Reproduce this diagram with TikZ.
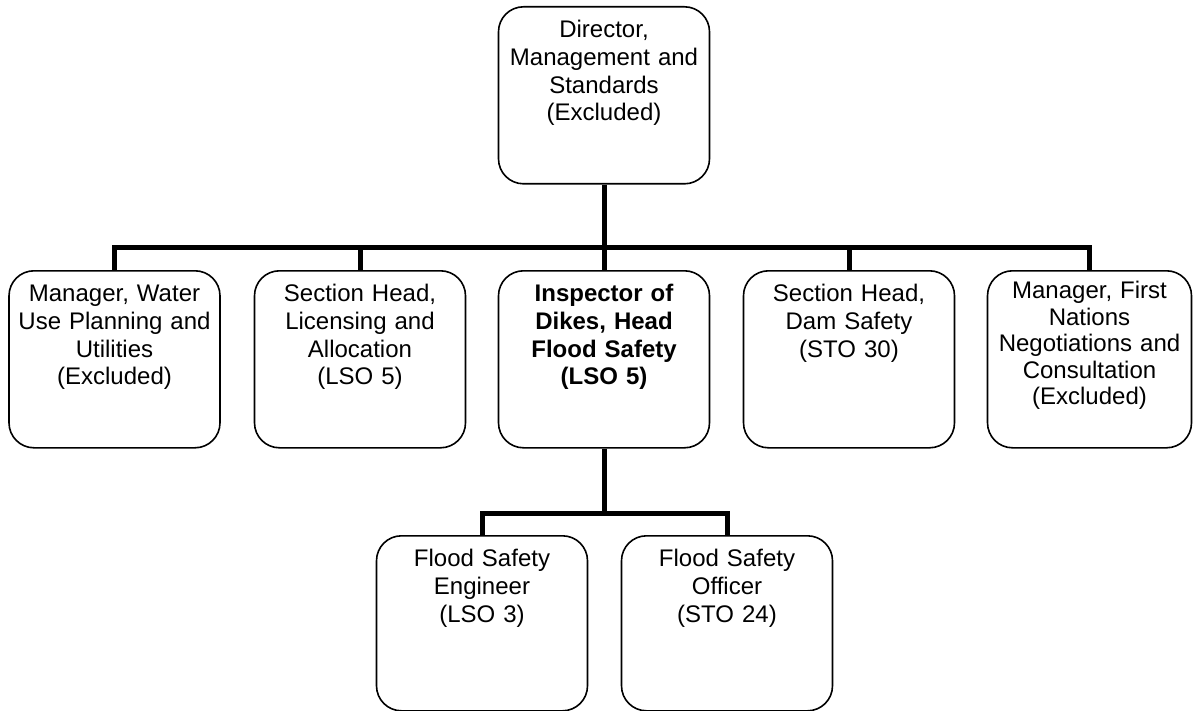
\documentclass[tikz,border=0pt]{standalone}
\usepackage{fontspec}
\setmainfont{Liberation Sans}
\begin{document}
\begin{tikzpicture}[x=1pt, y=-1pt, line join=miter,
	post/.style={draw, line width=1.6pt, rounded corners=25pt, anchor=north, text width=200pt, align=center, inner xsep=4pt, inner ysep=4pt, minimum width=211pt, text height=27pt, text depth=142pt, font=\fontsize{24}{27.7}\selectfont},
	head/.style={post, font=\fontsize{24}{27.7}\selectfont\bfseries},
	link/.style={line width=5pt}]
	\fill[white] (0,0) rectangle (1193,711);
	\useasboundingbox (0,0) rectangle (1193,711);
	\node[post] (dir) at (604,6) {Director,\\ Management and\\ Standards\\ (Excluded)};
	\node[post] (mgr1) at (114.5,270) {Manager, Water\\ Use Planning and\\ Utilities\\ (Excluded)};
	\node[post] (mgr2) at (360,270) {Section Head,\\ Licensing and\\ Allocation\\ (LSO 5)};
	\node[head] (insp) at (604,270) {Inspector of\\ Dikes, Head\\ Flood Safety\\ (LSO 5)};
	\node[post] (mgr4) at (849,270) {Section Head,\\ Dam Safety\\ (STO 30)};
	\node[post, text width=196pt, minimum width=204pt, text height=24pt, text depth=145pt, font=\fontsize{24}{26.5}\selectfont] (mgr5) at (1089.5,270) {Manager, First\\ Nations\\ Negotiations and\\ Consultation\\ (Excluded)};
	\node[post, text depth=140pt] (eng) at (482,535) {Flood Safety\\ Engineer\\ (LSO 3)};
	\node[post, text depth=140pt] (off) at (727,535) {Flood Safety\\ Officer\\ (STO 24)};
	\coordinate (bus) at (604,248);
	\coordinate (bus2) at (604,513);
	\draw[link] (dir.south) -- (insp.north);
	\draw[link] (mgr1.north) |- (bus) -| (mgr5.north);
	\foreach \n in {mgr2,mgr4} \draw[link] (\n.north) -- (\n.north |- bus);
	\draw[link] (insp.south) -- (bus2);
	\draw[link] (eng.north) |- (bus2) -| (off.north);
\end{tikzpicture}
\end{document}
